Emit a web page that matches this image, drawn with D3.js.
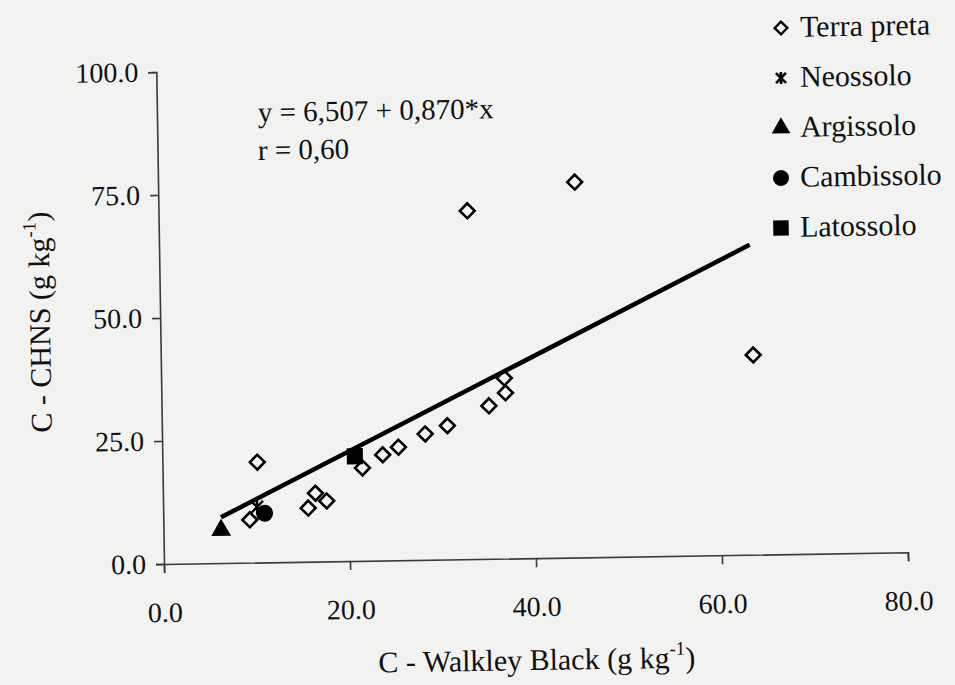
<!DOCTYPE html>
<html>
<head>
<meta charset="utf-8">
<script src="https://cdn.jsdelivr.net/npm/d3@7"></script>
<style>
  body { margin: 0; background: #f2f2f1; }
  svg text { font-family: "Liberation Serif", "Times New Roman", Times, serif; }
</style>
</head>
<body>
<svg id="chart" width="955" height="685"></svg>
<script>
// values
const terraX = [9.3, 10.2, 15.6, 16.4, 17.6, 21.5, 23.7, 25.4, 28.3, 30.7, 35.2, 37.0, 36.9, 33.2, 44.8, 63.7];
const terraY = [8.7, 20.4, 10.9, 13.9, 12.3, 18.9, 21.5, 23.0, 25.6, 27.2, 31.1, 33.7, 36.7, 70.8, 76.3, 40.6];
const neoX = [10.1], neoY = [11.3];
const argX = [6.2], argY = [6.7];
const camX = [10.9], camY = [10.0];
const latX = [20.7], latY = [21.3];
// fitted line as drawn
const fitX = [6.2, 63.5];
const fitY = [9.3, 63.0];

const xTicks = [0, 20, 40, 60, 80];
const yTicks = [0, 25, 50, 75, 100];
const legendNames = ['Terra preta', 'Neossolo', 'Argissolo', 'Cambissolo', 'Latossolo'];

const tilt = -0.9; // the scan is slightly rotated
const svg = d3.select('#chart');
const g = svg.append('g').attr('transform', `translate(164,564) rotate(${tilt})`);

const x = d3.scaleLinear().domain([0, 80]).range([0, 744]);
const y = d3.scaleLinear().domain([0, 100]).range([0, -492]);

const fmt = d3.format('.1f');

const xAxis = g.append('g')
  .call(d3.axisBottom(x).tickValues(xTicks).tickSize(9).tickSizeOuter(9).tickFormat(fmt));
const yAxis = g.append('g')
  .call(d3.axisLeft(y).tickValues(yTicks).tickSize(8).tickSizeOuter(8).tickFormat(fmt));

[xAxis, yAxis].forEach(a => {
  a.attr('font-family', null).attr('font-size', null);
  a.selectAll('path, line').attr('stroke', '#3a3a3a').attr('stroke-width', 1.6);
  a.selectAll('text').attr('font-size', 28).attr('fill', '#111');
});
xAxis.selectAll('text').attr('dy', null).attr('y', 58);
yAxis.selectAll('text').attr('x', -18);

// fit line
g.append('path')
  .datum(fitX.map((v, i) => [v, fitY[i]]))
  .attr('d', d3.line().x(d => x(d[0])).y(d => y(d[1])))
  .attr('stroke', '#000').attr('stroke-width', 4.5).attr('fill', 'none');

const zip = (xs, ys) => xs.map((v, i) => [v, ys[i]]);

// Terra preta: open diamonds
g.selectAll('.tp').data(zip(terraX, terraY)).join('path')
  .attr('d', d3.symbol(d3.symbolSquare, 110)())
  .attr('transform', d => `translate(${x(d[0])},${y(d[1])}) rotate(45)`)
  .attr('fill', 'none').attr('stroke', '#000').attr('stroke-width', 2.6);

const asterisk = s => `M${-s},${-s}L${s},${s}M${-s},${s}L${s},${-s}M0,${-s * 1.2}L0,${s * 1.2}`;

g.selectAll('.neo').data(zip(neoX, neoY)).join('path')
  .attr('d', asterisk(6))
  .attr('transform', d => `translate(${x(d[0])},${y(d[1])})`)
  .attr('stroke', '#000').attr('stroke-width', 2.4);

g.selectAll('.arg').data(zip(argX, argY)).join('path')
  .attr('d', d3.symbol(d3.symbolTriangle, 170)())
  .attr('transform', d => `translate(${x(d[0])},${y(d[1])})`)
  .attr('fill', '#000');

g.selectAll('.cam').data(zip(camX, camY)).join('circle')
  .attr('cx', d => x(d[0])).attr('cy', d => y(d[1])).attr('r', 8.5)
  .attr('fill', '#000');

g.selectAll('.lat').data(zip(latX, latY)).join('path')
  .attr('d', d3.symbol(d3.symbolSquare, 260)())
  .attr('transform', d => `translate(${x(d[0])},${y(d[1])})`)
  .attr('fill', '#000');

// equation
svg.append('text').attr('transform', `translate(258,122) rotate(${tilt})`)
  .attr('font-size', 29).attr('fill', '#111').text('y = 6,507 + 0,870*x');
svg.append('text').attr('transform', `translate(258,160) rotate(${tilt})`)
  .attr('font-size', 29).attr('fill', '#111').text('r = 0,60');

// legend
const legendMarks = [
  s => s.append('path').attr('d', d3.symbol(d3.symbolSquare, 80)()).attr('transform', 'rotate(45)')
        .attr('fill', 'none').attr('stroke', '#000').attr('stroke-width', 2.4),
  s => s.append('path').attr('d', asterisk(5)).attr('stroke', '#000').attr('stroke-width', 2.6),
  s => s.append('path').attr('d', d3.symbol(d3.symbolTriangle, 150)()).attr('fill', '#000'),
  s => s.append('circle').attr('r', 8).attr('fill', '#000'),
  s => s.append('path').attr('d', d3.symbol(d3.symbolSquare, 240)()).attr('fill', '#000')
];
const legend = svg.append('g');
legendNames.forEach((name, i) => {
  const row = legend.append('g').attr('transform', `translate(781,${28 + i * 50}) rotate(${tilt})`);
  legendMarks[i](row);
  row.append('text').attr('x', 19).attr('y', 9).attr('font-size', 30).attr('fill', '#111').text(name);
});

// axis titles
const xt = svg.append('text').attr('transform', `translate(537,670) rotate(${tilt})`)
  .attr('text-anchor', 'middle').attr('font-size', 30).attr('fill', '#111');
xt.append('tspan').text('C - Walkley Black (g kg');
xt.append('tspan').attr('font-size', 19).attr('dy', -13).text('-1');
xt.append('tspan').attr('dy', 13).text(')');

const yt = svg.append('text').attr('transform', `translate(50,322) rotate(${-90 + tilt})`)
  .attr('text-anchor', 'middle').attr('font-size', 30).attr('fill', '#111');
yt.append('tspan').text('C - CHNS (g kg');
yt.append('tspan').attr('font-size', 19).attr('dy', -13).text('-1');
yt.append('tspan').attr('dy', 13).text(')');
</script>
</body>
</html>
